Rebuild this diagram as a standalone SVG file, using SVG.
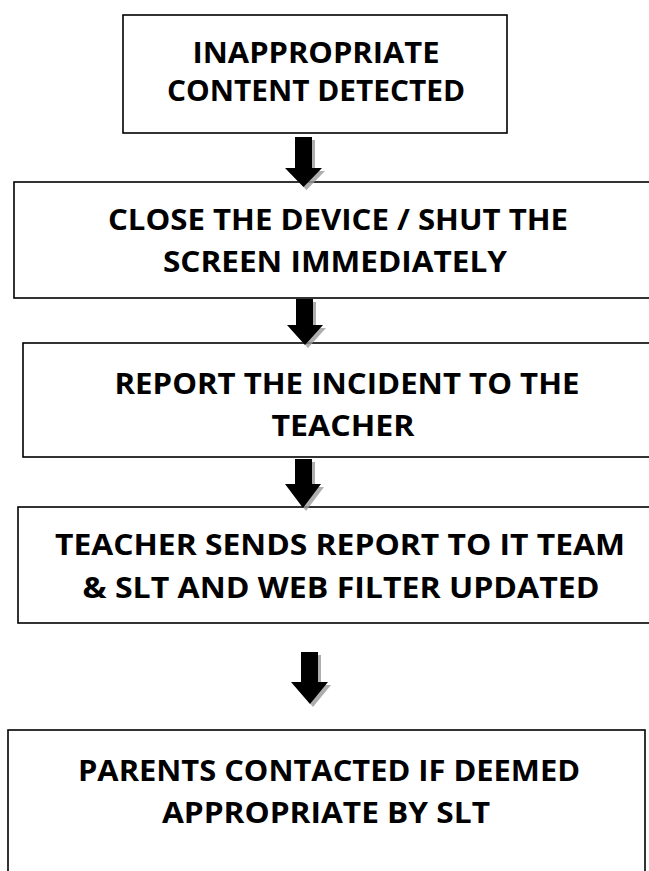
<svg xmlns="http://www.w3.org/2000/svg" width="649" height="871" viewBox="0 0 649 871">
<defs>
<style>
.box{fill:#ffffff;stroke:#000000;stroke-width:1.6}
.t{font-family:"Open Sans","Liberation Sans",sans-serif;font-weight:bold;font-size:29px;fill:#000000;text-anchor:middle}
.arr{fill:#000000}
.sh{fill:#9a9a9a;opacity:0.8}
</style>
</defs>
<rect width="649" height="871" fill="#ffffff"/>
<g id="node1">
<rect class="box" x="123" y="15" width="384" height="118"/>
<text class="t" x="316" y="63" textLength="247" lengthAdjust="spacingAndGlyphs">INAPPROPRIATE</text>
<text class="t" x="316" y="101" textLength="298" lengthAdjust="spacingAndGlyphs">CONTENT DETECTED</text>
</g>
<g id="node2">
<rect class="box" x="14" y="182" width="650" height="116"/>
<text class="t" x="338" y="230" textLength="460" lengthAdjust="spacingAndGlyphs">CLOSE THE DEVICE / SHUT THE</text>
<text class="t" x="335" y="272" textLength="344" lengthAdjust="spacingAndGlyphs">SCREEN IMMEDIATELY</text>
</g>
<g id="node3">
<rect class="box" x="23" y="343" width="650" height="114"/>
<text class="t" x="347" y="394" textLength="465" lengthAdjust="spacingAndGlyphs">REPORT THE INCIDENT TO THE</text>
<text class="t" x="343" y="436" textLength="143" lengthAdjust="spacingAndGlyphs">TEACHER</text>
</g>
<g id="node4">
<rect class="box" x="18" y="507" width="650" height="116"/>
<text class="t" x="340" y="555" textLength="570" lengthAdjust="spacingAndGlyphs">TEACHER SENDS REPORT TO IT TEAM</text>
<text class="t" x="341" y="598" textLength="517" lengthAdjust="spacingAndGlyphs">&amp; SLT AND WEB FILTER UPDATED</text>
</g>
<g id="node5">
<rect class="box" x="8" y="730" width="637" height="160"/>
<text class="t" x="329" y="781" textLength="502" lengthAdjust="spacingAndGlyphs">PARENTS CONTACTED IF DEEMED</text>
<text class="t" x="326" y="823" textLength="328" lengthAdjust="spacingAndGlyphs">APPROPRIATE BY SLT</text>
</g>
<g id="connectors">
<polygon class="sh" points="298,140 315,140 315,171 325,171 306.5,190 288,171 298,171"/>
<polygon class="arr" points="295,137 312,137 312,168 322,168 303.5,187 285,168 295,168"/>
<polygon class="sh" points="299,302 316,302 316,328 326,328 308,348 290,328 299,328"/>
<polygon class="arr" points="296,299 313,299 313,325 323,325 305,345 287,325 296,325"/>
<polygon class="sh" points="298,462 315,462 315,487 324,487 306,511 288,487 298,487"/>
<polygon class="arr" points="295,459 312,459 312,484 321,484 303,508 285,484 295,484"/>
<polygon class="sh" points="304,655 321,655 321,685 331,685 313,707 294,685 304,685"/>
<polygon class="arr" points="301,652 318,652 318,682 328,682 310,704 291,682 301,682"/>
</g>
</svg>
